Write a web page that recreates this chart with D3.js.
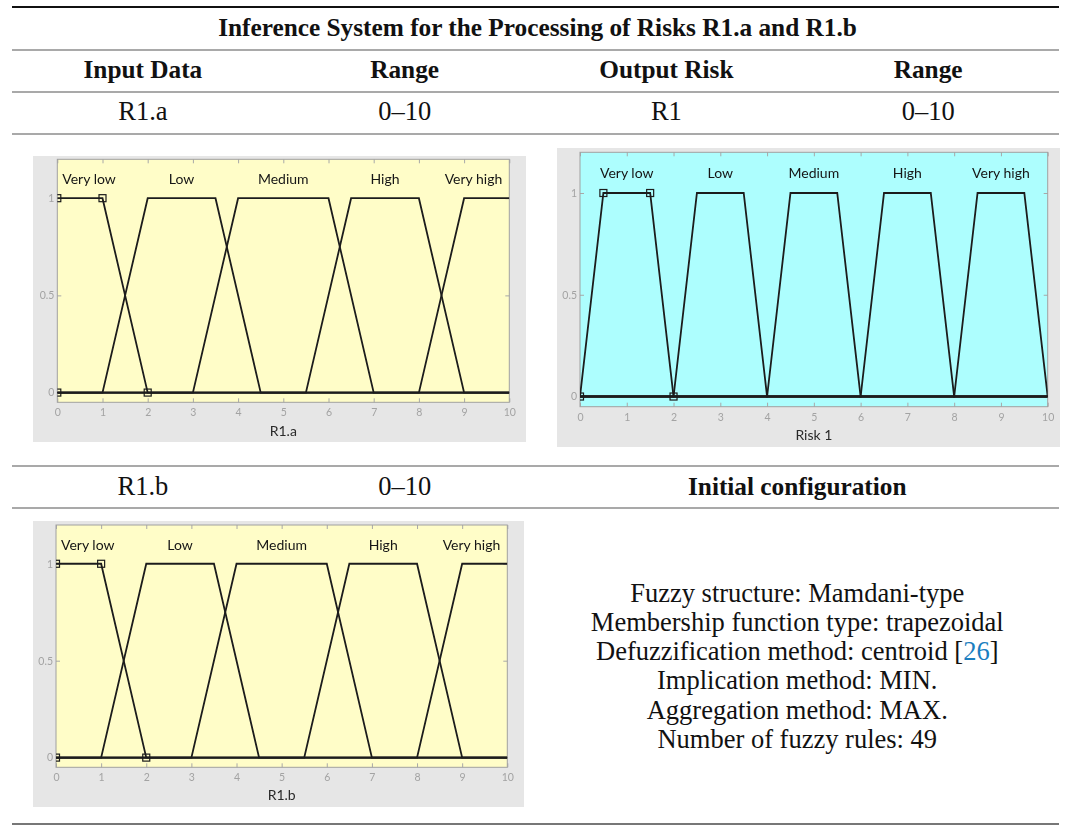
<!DOCTYPE html>
<html>
<head>
<meta charset="utf-8">
<script src="https://cdn.jsdelivr.net/npm/d3@7"></script>
<style>
  html, body { margin: 0; padding: 0; background: #ffffff; }
  svg { display: block; }
</style>
</head>
<body>
<svg id="chart" width="1066" height="826"></svg>
<script>
// ---- Table text ----
const tableTitle = "Inference System for the Processing of Risks R1.a and R1.b";
const headerCells = ["Input Data", "Range", "Output Risk", "Range"];
const firstRowCells = ["R1.a", "0–10", "R1", "0–10"];
const secondRowCells = ["R1.b", "0–10"];
const configTitle = "Initial configuration";
const configLines = [
  "Fuzzy structure: Mamdani-type",
  "Membership function type: trapezoidal",
  "Defuzzification method: centroid [26]",
  "Implication method: MIN.",
  "Aggregation method: MAX.",
  "Number of fuzzy rules: 49"
];

// ---- Membership functions (trapezoid parameters a, b, c, d) ----
const termNames = ["Very low", "Low", "Medium", "High", "Very high"];
const inputParamsA = [[0, 0, 1, 2], [1, 2, 3.5, 4.5], [3, 4, 6, 7], [5.5, 6.5, 8, 9], [8, 9, 10, 10]];
const inputParamsB = [[0, 0, 1, 2], [1, 2, 3.5, 4.5], [3, 4, 6, 7], [5.5, 6.5, 8, 9], [8, 9, 10, 10]];
const outputParams = [[0, 0.5, 1.5, 2], [2, 2.5, 3.5, 4], [4, 4.5, 5.5, 6], [6, 6.5, 7.5, 8], [8, 8.5, 9.5, 10]];
const xTickValues = [0, 1, 2, 3, 4, 5, 6, 7, 8, 9, 10];
const yTickValues = [0, 0.5, 1];

const svg = d3.select("#chart");
const serif = "'Liberation Serif', 'Times New Roman', serif";
const sans = "Lato, 'Open Sans', sans-serif";

// soft rendering for the captured plot windows
const defs = svg.append("defs");
defs.append("filter").attr("id", "soft")
  .attr("x", "-2%").attr("y", "-2%").attr("width", "104%").attr("height", "104%")
  .append("feGaussianBlur").attr("stdDeviation", 0.35);

// ---- Table rules ----
const tableLeft = 12, tableRight = 1059;
const colW = (tableRight - tableLeft) / 4;
const colX = i => tableLeft + colW * (i + 0.5);
const rules = [
  { y: 7, w: 2, c: "#111" },
  { y: 50, w: 1.2, c: "#555" },
  { y: 92, w: 1.2, c: "#555" },
  { y: 134, w: 1.2, c: "#555" },
  { y: 466, w: 1.2, c: "#555" },
  { y: 508, w: 1.2, c: "#555" },
  { y: 824, w: 2, c: "#777" }
];
svg.append("g").selectAll("line").data(rules).join("line")
  .attr("x1", tableLeft).attr("x2", tableRight)
  .attr("y1", d => d.y).attr("y2", d => d.y)
  .attr("stroke", d => d.c).attr("stroke-width", d => d.w);

const tText = svg.append("g").attr("font-family", serif).attr("fill", "#111").attr("text-anchor", "middle");
const fsBold = 25.3;
const fsReg = 26.5;
tText.append("text").attr("x", (tableLeft + tableRight) / 2 + 2).attr("y", 36)
  .attr("font-size", fsBold).attr("font-weight", "bold").text(tableTitle);
tText.selectAll("text.h").data(headerCells).join("text").attr("class", "h")
  .attr("x", (d, i) => colX(i)).attr("y", 78)
  .attr("font-size", fsBold).attr("font-weight", "bold").text(d => d);
tText.selectAll("text.r1").data(firstRowCells).join("text").attr("class", "r1")
  .attr("x", (d, i) => colX(i)).attr("y", 120)
  .attr("font-size", fsReg).text(d => d);
tText.selectAll("text.r2").data(secondRowCells).join("text").attr("class", "r2")
  .attr("x", (d, i) => colX(i)).attr("y", 495)
  .attr("font-size", fsReg).text(d => d);
tText.append("text").attr("x", (colX(2) + colX(3)) / 2).attr("y", 495)
  .attr("font-size", fsBold).attr("font-weight", "bold").text(configTitle);

const cfg = tText.selectAll("text.cfg").data(configLines).join("text").attr("class", "cfg")
  .attr("x", (colX(2) + colX(3)) / 2).attr("y", (d, i) => 601.7 + i * 29.2)
  .attr("font-size", fsReg);
// citation numbers rendered as links
cfg.each(function (d) {
  const t = d3.select(this);
  const m = d.match(/^(.*\[)(\d+)(\].*)$/);
  if (m) {
    t.append("tspan").text(m[1]);
    t.append("tspan").attr("fill", "#1a7ec0").text(m[2]);
    t.append("tspan").text(m[3]);
  } else {
    t.text(d);
  }
});

// ---- Membership function plot ----
function trap(x, p) {
  const [a, b, c, d] = p;
  if (x < a || x > d) return 0;
  if (x >= b && x <= c) return 1;
  if (x < b) return (x - a) / (b - a);
  return (d - x) / (d - c);
}

let clipId = 0;
function drawPlot(o) {
  const g = svg.append("g").attr("filter", "url(#soft)");
  g.append("rect").attr("x", o.panel[0]).attr("y", o.panel[1])
    .attr("width", o.panel[2] - o.panel[0]).attr("height", o.panel[3] - o.panel[1])
    .attr("fill", "#e6e6e6");

  const x = d3.scaleLinear().domain([0, 10]).range([o.axes[0], o.axes[2]]);
  const y = d3.scaleLinear().domain([-0.05, 1.2]).range([o.axes[3], o.axes[1]]);
  const [x0, x1] = x.range();
  const [yb, yt] = y.range();

  g.append("rect").attr("x", x0).attr("y", yt).attr("width", x1 - x0).attr("height", yb - yt)
    .attr("fill", o.bg);

  const tickColor = "#a8a8a8";
  const styleAxis = sel => {
    sel.select(".domain").remove();
    sel.selectAll(".tick line").attr("stroke", tickColor);
    sel.selectAll(".tick text").attr("fill", "#a3a3a3").attr("font-size", 10.5).attr("font-family", sans);
  };
  g.append("g").attr("transform", `translate(0,${yb})`)
    .call(d3.axisBottom(x).tickValues(xTickValues).tickSize(-4).tickPadding(o.tickPad).tickFormat(d3.format("~g")))
    .call(styleAxis);
  g.append("g").attr("transform", `translate(0,${yt})`)
    .call(d3.axisTop(x).tickValues(xTickValues).tickSize(-4).tickFormat(""))
    .call(styleAxis);
  g.append("g").attr("transform", `translate(${x0},0)`)
    .call(d3.axisLeft(y).tickValues(yTickValues).tickSize(-4).tickPadding(3).tickFormat(d3.format("~g")))
    .call(styleAxis);
  g.append("g").attr("transform", `translate(${x1},0)`)
    .call(d3.axisRight(y).tickValues(yTickValues).tickSize(-4).tickFormat(""))
    .call(styleAxis);

  g.append("rect").attr("x", x0).attr("y", yt).attr("width", x1 - x0).attr("height", yb - yt)
    .attr("fill", "none").attr("stroke", "#a0a0a0").attr("stroke-width", 1);

  const cid = "clip" + (clipId++);
  defs.append("clipPath").attr("id", cid)
    .append("rect").attr("x", x0).attr("y", yt).attr("width", x1 - x0).attr("height", yb - yt);
  const plot = g.append("g").attr("clip-path", `url(#${cid})`);

  const line = d3.line().x(d => x(d[0])).y(d => y(d[1]));
  o.params.forEach(p => {
    const xs = Array.from(new Set([0, ...p, 10])).sort((a, b) => a - b);
    const pts = xs.map(v => [v, trap(v, p)]);
    plot.append("path").attr("d", line(pts))
      .attr("fill", "none").attr("stroke", "#1c1c1c").attr("stroke-width", 1.8)
      .attr("stroke-linejoin", "miter");
  });

  // vertex markers of the selected function
  const sel = o.params[0];
  const marks = [[sel[0], 0], [sel[1], 1], [sel[2], 1], [sel[3], 0]];
  plot.selectAll("rect.mk").data(marks).join("rect").attr("class", "mk")
    .attr("x", d => x(d[0]) - 3.5).attr("y", d => y(d[1]) - 3.5)
    .attr("width", 7).attr("height", 7)
    .attr("fill", "none").attr("stroke", "#1c1c1c").attr("stroke-width", 1.2);

  // term names above each plateau, kept inside the axes
  const labelLevel = 1.09;
  termNames.forEach((name, i) => {
    const p = o.params[i];
    const t = g.append("text").attr("font-family", sans).attr("font-size", 14)
      .attr("fill", "#151515").attr("text-anchor", "middle").attr("dominant-baseline", "middle")
      .attr("y", y(labelLevel)).text(name);
    const half = t.node().getComputedTextLength() / 2;
    let cx = x((p[1] + p[2]) / 2);
    cx = Math.max(x0 + 5 + half, Math.min(x1 - 7 - half, cx));
    t.attr("x", cx);
  });

  g.append("text").attr("x", (x0 + x1) / 2).attr("y", yb + o.titleGap)
    .attr("text-anchor", "middle").attr("font-family", sans).attr("font-size", 14)
    .attr("fill", "#2a2a2a").text(o.title);
}

drawPlot({ panel: [33, 156, 526, 442], axes: [57.3, 159.3, 509.3, 402.3], bg: "#fffdc8",
  params: inputParamsA, title: "R1.a", tickPad: 6, titleGap: 34 });
drawPlot({ panel: [557, 148, 1060, 447], axes: [580, 152.3, 1047.7, 406.7], bg: "#adfefe",
  params: outputParams, title: "Risk 1", tickPad: 7, titleGap: 33 });
drawPlot({ panel: [33, 521, 524, 807], axes: [56, 525, 507.3, 767.3], bg: "#fffdc8",
  params: inputParamsB, title: "R1.b", tickPad: 6, titleGap: 33 });
</script>
</body>
</html>
